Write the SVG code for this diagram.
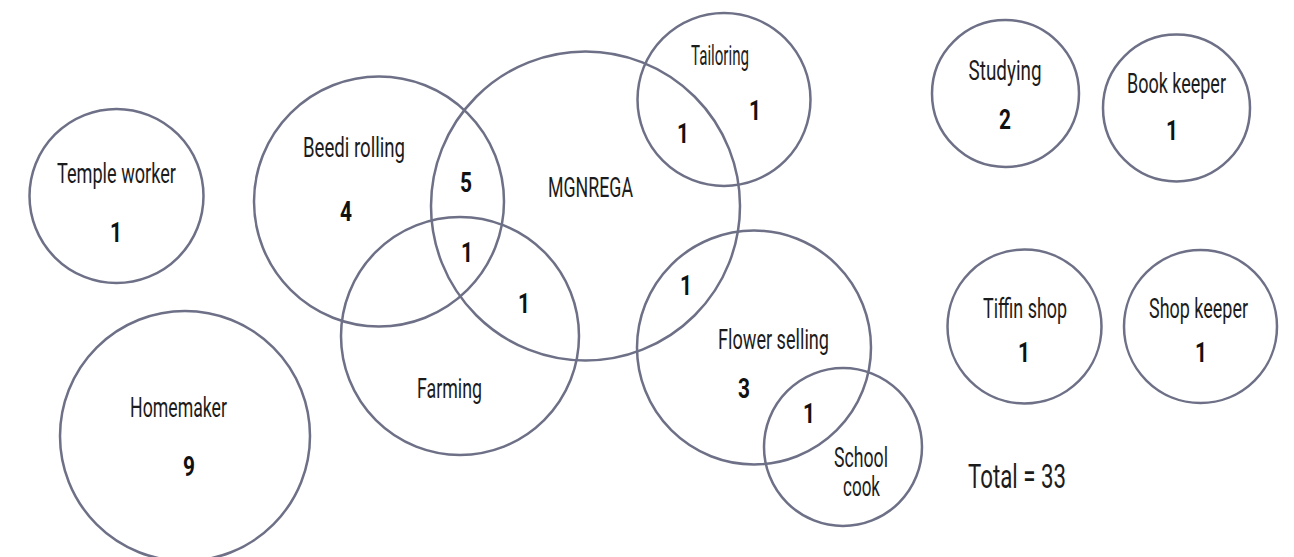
<svg xmlns="http://www.w3.org/2000/svg" width="1294" height="557" viewBox="0 0 1294 557">
<style>
.c{fill:none;stroke:#6d7086;stroke-width:2.5}
.l{font-family:Roboto,"DejaVu Sans",sans-serif;font-weight:400;font-size:27px;fill:#1c1c1c;text-anchor:middle}
.n{font-family:Roboto,"DejaVu Sans",sans-serif;font-weight:700;font-size:28px;fill:#111;text-anchor:middle}
</style>
<rect width="1294" height="557" fill="#fff"/>
<g id="temple-worker">
<circle class="c" cx="116.5" cy="196" r="87"/>
<text class="l" x="116.5" y="183" textLength="119" lengthAdjust="spacingAndGlyphs">Temple worker</text>
<text class="n" x="116" y="242" textLength="12" lengthAdjust="spacingAndGlyphs">1</text>
</g>
<g id="homemaker">
<circle class="c" cx="185" cy="436" r="125"/>
<text class="l" x="178.5" y="417" textLength="97" lengthAdjust="spacingAndGlyphs">Homemaker</text>
<text class="n" x="189" y="476" textLength="12" lengthAdjust="spacingAndGlyphs">9</text>
</g>
<g id="beedi-rolling">
<circle class="c" cx="379" cy="201.5" r="125"/>
<text class="l" x="354" y="157" textLength="102" lengthAdjust="spacingAndGlyphs">Beedi rolling</text>
<text class="n" x="346" y="221" textLength="12" lengthAdjust="spacingAndGlyphs">4</text>
</g>
<g id="mgnrega">
<circle class="c" cx="585.5" cy="206" r="154.5"/>
<text class="l" x="590.5" y="197" textLength="85" lengthAdjust="spacingAndGlyphs">MGNREGA</text>
</g>
<g id="farming">
<circle class="c" cx="460" cy="336" r="119"/>
<text class="l" x="449.5" y="398" textLength="65" lengthAdjust="spacingAndGlyphs">Farming</text>
</g>
<g id="tailoring">
<circle class="c" cx="724" cy="99.5" r="86.5"/>
<text class="l" x="720" y="65" textLength="58" lengthAdjust="spacingAndGlyphs">Tailoring</text>
<text class="n" x="755" y="120" textLength="12" lengthAdjust="spacingAndGlyphs">1</text>
</g>
<g id="flower-selling">
<circle class="c" cx="754" cy="347.5" r="117"/>
<text class="l" x="773.5" y="349" textLength="111" lengthAdjust="spacingAndGlyphs">Flower selling</text>
<text class="n" x="744" y="398" textLength="12" lengthAdjust="spacingAndGlyphs">3</text>
</g>
<g id="school-cook">
<circle class="c" cx="843" cy="447" r="79"/>
<text class="l" x="861" y="467" textLength="54" lengthAdjust="spacingAndGlyphs">School</text>
<text class="l" x="861.5" y="496" textLength="37" lengthAdjust="spacingAndGlyphs">cook</text>
</g>
<g id="overlaps">
<text class="n" x="466" y="192" textLength="12" lengthAdjust="spacingAndGlyphs">5</text>
<text class="n" x="467" y="262" textLength="12" lengthAdjust="spacingAndGlyphs">1</text>
<text class="n" x="524" y="313" textLength="12" lengthAdjust="spacingAndGlyphs">1</text>
<text class="n" x="683" y="143" textLength="12" lengthAdjust="spacingAndGlyphs">1</text>
<text class="n" x="686" y="295" textLength="12" lengthAdjust="spacingAndGlyphs">1</text>
<text class="n" x="809" y="423" textLength="12" lengthAdjust="spacingAndGlyphs">1</text>
</g>
<g id="studying">
<circle class="c" cx="1005.5" cy="93.5" r="73.5"/>
<text class="l" x="1005" y="80" textLength="73" lengthAdjust="spacingAndGlyphs">Studying</text>
<text class="n" x="1005" y="129" textLength="12" lengthAdjust="spacingAndGlyphs">2</text>
</g>
<g id="book-keeper">
<circle class="c" cx="1176.5" cy="108" r="73.5"/>
<text class="l" x="1176.5" y="93" textLength="99" lengthAdjust="spacingAndGlyphs">Book keeper</text>
<text class="n" x="1172" y="140" textLength="12" lengthAdjust="spacingAndGlyphs">1</text>
</g>
<g id="tiffin-shop">
<circle class="c" cx="1024.5" cy="326.5" r="77"/>
<text class="l" x="1025" y="318" textLength="84" lengthAdjust="spacingAndGlyphs">Tiffin shop</text>
<text class="n" x="1024" y="362" textLength="12" lengthAdjust="spacingAndGlyphs">1</text>
</g>
<g id="shop-keeper">
<circle class="c" cx="1200.5" cy="326.5" r="76.5"/>
<text class="l" x="1198.5" y="318" textLength="99" lengthAdjust="spacingAndGlyphs">Shop keeper</text>
<text class="n" x="1201" y="362" textLength="12" lengthAdjust="spacingAndGlyphs">1</text>
</g>
<g id="total">
<text class="l" x="1017" y="488" style="font-size:33px" textLength="98" lengthAdjust="spacingAndGlyphs">Total = 33</text>
</g>
</svg>
